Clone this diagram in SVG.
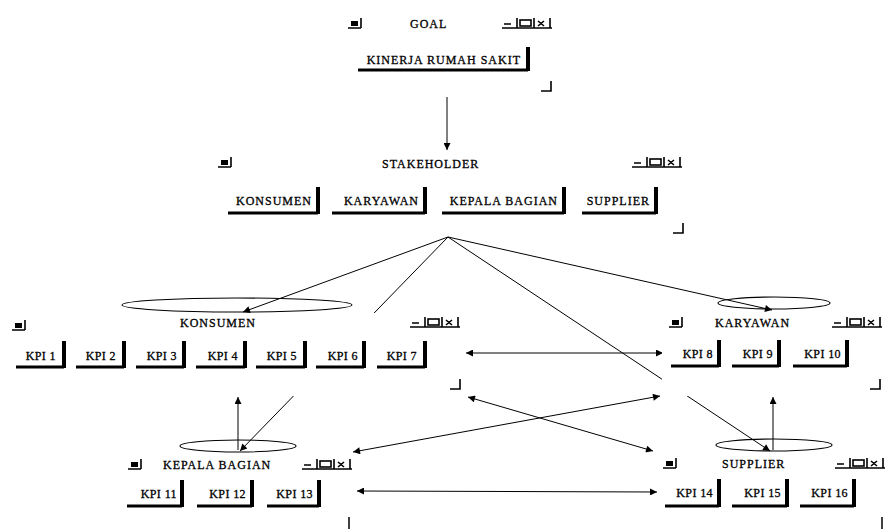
<svg xmlns="http://www.w3.org/2000/svg" xmlns:xlink="http://www.w3.org/1999/xlink" width="887" height="529" viewBox="0 0 887 529">
<style>
.t{font-family:"Liberation Serif","Times New Roman",serif;font-size:12px;fill:#000;stroke:#000;stroke-width:0.3px}
.s{letter-spacing:1px}
.k{letter-spacing:0.4px}
.bb{stroke:#000;stroke-width:3;fill:none}
.br{stroke:#000;stroke-width:4;fill:none}
.cn{stroke:#000;stroke-width:1;fill:none}
.bg{fill:#fff}
.el{fill:none;stroke:#000;stroke-width:1.1}
</style>
<defs>
<marker id="ah" viewBox="0 0 10 10" refX="10" refY="5" markerWidth="9" markerHeight="7" markerUnits="userSpaceOnUse" orient="auto-start-reverse"><path d="M0 0L10 5L0 10z" fill="#000"/></marker>
<g id="ico"><path d="M0 0H13M13 0V-10" stroke="#000" stroke-width="1.6" fill="none"/><rect x="3" y="-7" width="7" height="5" fill="#000"/></g>
<g id="ctl" stroke="#000" stroke-width="1.6" fill="none"><path d="M0 0H50M2 -4H9M15 0V-10M32 0V-10M48 0V-10M36 -7L42 -2M42 -7L36 -2"/><rect x="18" y="-8" width="11" height="6"/></g>
<path id="crn" d="M0 0H10V-10" stroke="#000" stroke-width="1.6" fill="none"/>
</defs>

<g id="connectors">
<path class="cn" d="M447 97V150" marker-end="url(#ah)"/>
<path class="cn" d="M448 237L243 312" marker-end="url(#ah)"/>
<path class="cn" d="M448 237L240 451" marker-end="url(#ah)"/>
<path class="cn" d="M448 237L770 451" marker-end="url(#ah)"/>
<path class="cn" d="M448 237L772 310" marker-end="url(#ah)"/>
<path class="cn" d="M238 450V397" marker-end="url(#ah)"/>
<path class="cn" d="M773 450V397" marker-end="url(#ah)"/>
<path class="cn" d="M466 353H663" marker-start="url(#ah)" marker-end="url(#ah)"/>
<path class="cn" d="M468 397L653 451" marker-start="url(#ah)" marker-end="url(#ah)"/>
<path class="cn" d="M353 452L660 396" marker-start="url(#ah)" marker-end="url(#ah)"/>
<path class="cn" d="M357 491L657 492" marker-start="url(#ah)" marker-end="url(#ah)"/>
</g>

<g id="goal">
<use xlink:href="#ico" x="348" y="28"/>
<text class="t s" x="410" y="28">GOAL</text>
<use xlink:href="#ctl" x="502" y="28"/>
<g id="kinerja"><path class="bb" d="M358 70H528"/><path class="br" d="M528 71V47"/><text class="t s" x="521" y="64" text-anchor="end">KINERJA RUMAH SAKIT</text></g>
<use xlink:href="#crn" x="541" y="91"/>
</g>

<g id="stakeholder">
<use xlink:href="#ico" x="218" y="167"/>
<text class="t s" x="382" y="168">STAKEHOLDER</text>
<use xlink:href="#ctl" x="632" y="167"/>
<g id="sh-konsumen"><path class="bb" d="M228 213H318"/><path class="br" d="M318 214V187"/><text class="t s" x="312" y="205" text-anchor="end">KONSUMEN</text></g>
<g id="sh-karyawan"><path class="bb" d="M332 213H425"/><path class="br" d="M425 214V187"/><text class="t s" x="419" y="205" text-anchor="end">KARYAWAN</text></g>
<g id="sh-kepala"><path class="bb" d="M442 213H564"/><path class="br" d="M564 214V187"/><text class="t s" x="558" y="205" text-anchor="end">KEPALA BAGIAN</text></g>
<g id="sh-supplier"><path class="bb" d="M582 213H656"/><path class="br" d="M656 214V187"/><text class="t s" x="650" y="205" text-anchor="end">SUPPLIER</text></g>
<use xlink:href="#crn" x="673" y="233"/>
</g>

<g id="konsumen">
<ellipse class="el" cx="237" cy="305" rx="115" ry="7"/>
<rect class="bg" x="0" y="313" width="462" height="83"/>
<use xlink:href="#ico" x="12" y="330"/>
<text class="t s" x="180" y="327">KONSUMEN</text>
<use xlink:href="#ctl" x="410" y="327"/>
<g id="kpi1"><path class="bb" d="M16 367H64"/><path class="br" d="M64 368V341"/><text class="t k" x="56" y="360" text-anchor="end">KPI 1</text></g>
<g id="kpi2"><path class="bb" d="M76 367H124"/><path class="br" d="M124 368V341"/><text class="t k" x="116" y="360" text-anchor="end">KPI 2</text></g>
<g id="kpi3"><path class="bb" d="M136 367H184"/><path class="br" d="M184 368V341"/><text class="t k" x="177" y="360" text-anchor="end">KPI 3</text></g>
<g id="kpi4"><path class="bb" d="M196 367H245"/><path class="br" d="M245 368V341"/><text class="t k" x="238" y="360" text-anchor="end">KPI 4</text></g>
<g id="kpi5"><path class="bb" d="M256 367H305"/><path class="br" d="M305 368V341"/><text class="t k" x="297" y="360" text-anchor="end">KPI 5</text></g>
<g id="kpi6"><path class="bb" d="M316 367H364"/><path class="br" d="M364 368V341"/><text class="t k" x="358" y="360" text-anchor="end">KPI 6</text></g>
<g id="kpi7"><path class="bb" d="M377 367H425"/><path class="br" d="M425 368V341"/><text class="t k" x="417" y="360" text-anchor="end">KPI 7</text></g>
<use xlink:href="#crn" x="450" y="389"/>
</g>

<g id="karyawan">
<ellipse class="el" cx="774" cy="303" rx="56" ry="6"/>
<rect class="bg" x="662" y="313" width="225" height="83"/>
<use xlink:href="#ico" x="669" y="327"/>
<text class="t s" x="715" y="327">KARYAWAN</text>
<use xlink:href="#ctl" x="832" y="327"/>
<g id="kpi8"><path class="bb" d="M671 366H719"/><path class="br" d="M719 367V340"/><text class="t k" x="713" y="358" text-anchor="end">KPI 8</text></g>
<g id="kpi9"><path class="bb" d="M732 366H779"/><path class="br" d="M779 367V340"/><text class="t k" x="773" y="358" text-anchor="end">KPI 9</text></g>
<g id="kpi10"><path class="bb" d="M793 366H847"/><path class="br" d="M847 367V340"/><text class="t k" x="841" y="358" text-anchor="end">KPI 10</text></g>
<use xlink:href="#crn" x="870" y="389"/>
</g>

<g id="kepala-bagian">
<ellipse class="el" cx="238" cy="446" rx="58" ry="6"/>
<rect class="bg" x="118" y="456" width="237" height="73"/>
<use xlink:href="#ico" x="128" y="469"/>
<text class="t s" x="163" y="469">KEPALA BAGIAN</text>
<use xlink:href="#ctl" x="302" y="469"/>
<g id="kpi11"><path class="bb" d="M127 506H182"/><path class="br" d="M182 507V480"/><text class="t k" x="177" y="498" text-anchor="end">KPI 11</text></g>
<g id="kpi12"><path class="bb" d="M197 506H252"/><path class="br" d="M252 507V480"/><text class="t k" x="246" y="498" text-anchor="end">KPI 12</text></g>
<g id="kpi13"><path class="bb" d="M267 506H319"/><path class="br" d="M319 507V480"/><text class="t k" x="313" y="498" text-anchor="end">KPI 13</text></g>
<path d="M349 517V529" stroke="#000" stroke-width="1.5"/>
</g>

<g id="supplier">
<ellipse class="el" cx="774" cy="445" rx="58" ry="6"/>
<rect class="bg" x="659" y="456" width="228" height="73"/>
<use xlink:href="#ico" x="663" y="468"/>
<text class="t s" x="722" y="468">SUPPLIER</text>
<use xlink:href="#ctl" x="835" y="468"/>
<g id="kpi14"><path class="bb" d="M665 506H719"/><path class="br" d="M719 507V479"/><text class="t k" x="713" y="497" text-anchor="end">KPI 14</text></g>
<g id="kpi15"><path class="bb" d="M732 506H787"/><path class="br" d="M787 507V479"/><text class="t k" x="781" y="497" text-anchor="end">KPI 15</text></g>
<g id="kpi16"><path class="bb" d="M800 506H854"/><path class="br" d="M854 507V479"/><text class="t k" x="848" y="497" text-anchor="end">KPI 16</text></g>
<path d="M882 517V529" stroke="#000" stroke-width="1.5"/>
</g>
</svg>
